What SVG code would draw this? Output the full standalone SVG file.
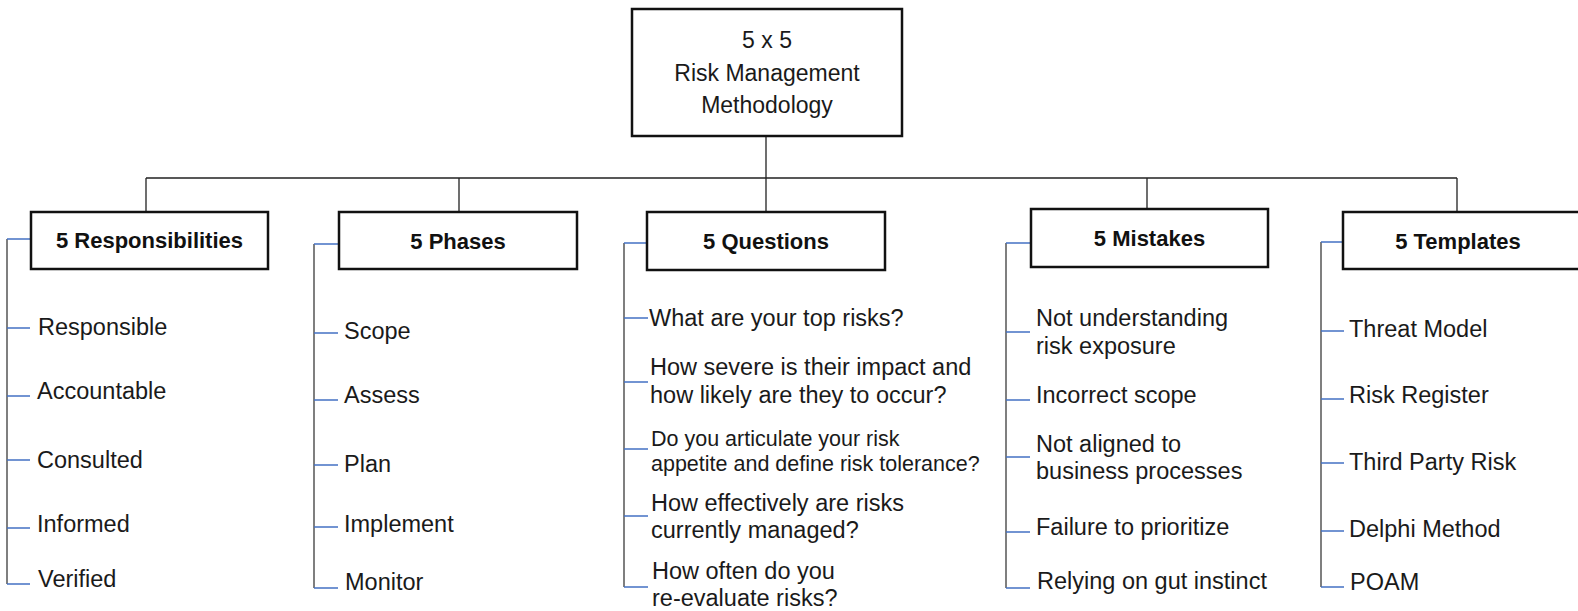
<svg xmlns="http://www.w3.org/2000/svg" width="1578" height="611" viewBox="0 0 1578 611">
<style>
.box{fill:#fff;stroke:#111;stroke-width:2.5}
.conn{stroke:#222;stroke-width:1.3;fill:none}
.spine{stroke:#555;stroke-width:1.5;fill:none}
.tick{stroke:#4472C4;stroke-width:1.3;fill:none}
.t{font-family:"Liberation Sans",Arial,sans-serif;font-size:23.5px;fill:#1a1a1a}
.h{font-family:"Liberation Sans",Arial,sans-serif;font-size:22px;font-weight:bold;fill:#111;text-anchor:middle}
.top{font-family:"Liberation Sans",Arial,sans-serif;font-size:23px;fill:#1a1a1a;text-anchor:middle}
.s{font-size:21.5px}
</style>
<rect width="1578" height="611" fill="#fff"/>
<g id="connectors">
<path class="conn" d="M766 136V178M146 178H1457M146 178V212M459 178V212M766 178V212M1147 178V209M1457 178V212"/>
<path class="spine" d="M7 239V584M314 244V588M624 243V587M1006 243V588M1321 242V587"/>
<path class="tick" d="M7 239H31M7 328H30M7 396H30M7 460H30M7 528H30M7 584H30"/>
<path class="tick" d="M314 244H339M314 333H338M314 400H338M314 465H338M314 527H338M314 588H338"/>
<path class="tick" d="M624 243H647M624 318H648M624 382H648M624 449H648M624 516H648M624 587H648"/>
<path class="tick" d="M1006 243H1031M1006 332H1030M1006 400H1030M1006 457H1030M1006 532H1030M1006 588H1030"/>
<path class="tick" d="M1321 242H1343M1321 331H1344M1321 399H1344M1321 463H1344M1321 531H1344M1321 587H1344"/>
</g>
<g id="root">
<rect class="box" x="632" y="9" width="270" height="127"/>
<text class="top" x="767" y="48">5 x 5</text>
<text class="top" x="767" y="81">Risk Management</text>
<text class="top" x="767" y="113">Methodology</text>
</g>
<g id="responsibilities">
<rect class="box" x="31" y="212" width="237" height="57"/>
<text class="h" x="149.5" y="248">5 Responsibilities</text>
<text class="t" x="38" y="335">Responsible</text>
<text class="t" x="37" y="399">Accountable</text>
<text class="t" x="37" y="468">Consulted</text>
<text class="t" x="37" y="532">Informed</text>
<text class="t" x="38" y="587">Verified</text>
</g>
<g id="phases">
<rect class="box" x="339" y="212" width="238" height="57"/>
<text class="h" x="458" y="249">5 Phases</text>
<text class="t" x="344" y="339">Scope</text>
<text class="t" x="344" y="403">Assess</text>
<text class="t" x="344" y="472">Plan</text>
<text class="t" x="344" y="532">Implement</text>
<text class="t" x="345" y="590">Monitor</text>
</g>
<g id="questions">
<rect class="box" x="647" y="212" width="238" height="58"/>
<text class="h" x="766" y="249">5 Questions</text>
<text class="t" x="649" y="326">What are your top risks?</text>
<text class="t" x="650" y="375">How severe is their impact and</text>
<text class="t" x="650" y="403">how likely are they to occur?</text>
<text class="t s" x="651" y="446">Do you articulate your risk</text>
<text class="t s" x="651" y="471">appetite and define risk tolerance?</text>
<text class="t" x="651" y="511">How effectively are risks</text>
<text class="t" x="651" y="538">currently managed?</text>
<text class="t" x="652" y="579">How often do you</text>
<text class="t" x="652" y="606">re-evaluate risks?</text>
</g>
<g id="mistakes">
<rect class="box" x="1031" y="209" width="237" height="58"/>
<text class="h" x="1149.5" y="246">5 Mistakes</text>
<text class="t" x="1036" y="326">Not understanding</text>
<text class="t" x="1036" y="354">risk exposure</text>
<text class="t" x="1036" y="403">Incorrect scope</text>
<text class="t" x="1036" y="452">Not aligned to</text>
<text class="t" x="1036" y="479">business processes</text>
<text class="t" x="1036" y="535">Failure to prioritize</text>
<text class="t" x="1037" y="589">Relying on gut instinct</text>
</g>
<g id="templates">
<rect class="box" x="1343" y="212" width="240" height="57"/>
<text class="h" x="1458" y="249">5 Templates</text>
<text class="t" x="1349" y="337">Threat Model</text>
<text class="t" x="1349" y="403">Risk Register</text>
<text class="t" x="1349" y="470">Third Party Risk</text>
<text class="t" x="1349" y="537">Delphi Method</text>
<text class="t" x="1350" y="590">POAM</text>
</g>
</svg>
